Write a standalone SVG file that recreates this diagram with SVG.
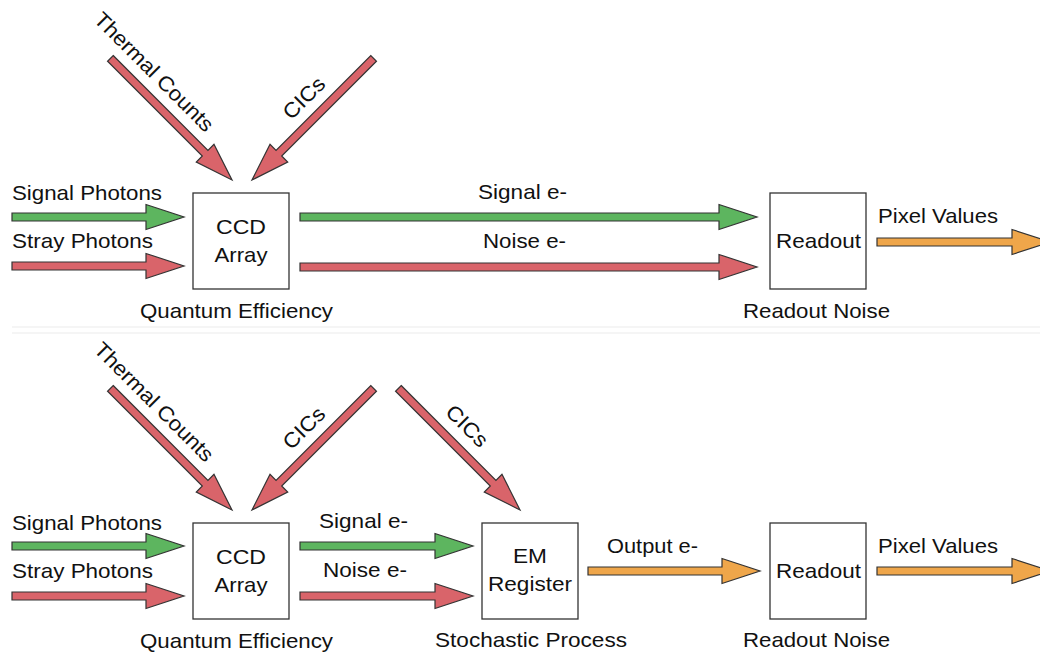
<svg xmlns="http://www.w3.org/2000/svg" width="1040" height="655" viewBox="0 0 1040 655">
<style>
.bg{fill:#ffffff}
.box{fill:#ffffff;stroke:#333333;stroke-width:1.3}
.g{fill:#5db55f;stroke:#333333;stroke-width:1.2;stroke-linejoin:miter}
.r{fill:#d9646a;stroke:#333333;stroke-width:1.2;stroke-linejoin:miter}
.o{fill:#efa64a;stroke:#333333;stroke-width:1.2;stroke-linejoin:miter}
text{font-family:"Liberation Sans",Arial,sans-serif;font-size:21px;fill:#111111}
.m{text-anchor:middle}
.sep{stroke:#ececec;stroke-width:1.2}
</style>
<defs>
<polygon id="diag" points="-172,-4 -38,-4 -38,-12.5 0,0 -38,12.5 -38,4 -172,4"/>
</defs>
<rect class="bg" x="0" y="0" width="1040" height="655"/>
<line class="sep" x1="12" y1="327" x2="1040" y2="327"/>
<line class="sep" x1="12" y1="333" x2="1040" y2="333"/>

<g id="connectors">
  <!-- top panel -->
  <use href="#diag" class="r" transform="translate(232,180) rotate(45)"/>
  <use href="#diag" class="r" transform="translate(252,180) rotate(135)"/>
  <polygon class="g" points="12,213 146,213 146,204.5 184,217 146,229.5 146,221 12,221"/>
  <polygon class="r" points="12,262 146,262 146,253.5 184,266 146,278.5 146,270 12,270"/>
  <polygon class="g" points="300,213 719,213 719,204.5 757,217 719,229.5 719,221 300,221"/>
  <polygon class="r" points="300,263 719,263 719,254.5 757,267 719,279.5 719,271 300,271"/>
  <polygon class="o" points="877,238 1012,238 1012,229.5 1050,242 1012,254.5 1012,246 877,246"/>
  <!-- bottom panel -->
  <use href="#diag" class="r" transform="translate(232,510) rotate(45)"/>
  <use href="#diag" class="r" transform="translate(252,510) rotate(135)"/>
  <use href="#diag" class="r" transform="translate(520,510) rotate(45)"/>
  <polygon class="g" points="12,542 146,542 146,533.5 184,546 146,558.5 146,550 12,550"/>
  <polygon class="r" points="12,592 146,592 146,583.5 184,596 146,608.5 146,600 12,600"/>
  <polygon class="g" points="300,542 435,542 435,533.5 473,546 435,558.5 435,550 300,550"/>
  <polygon class="r" points="300,592 435,592 435,583.5 473,596 435,608.5 435,600 300,600"/>
  <polygon class="o" points="588,567 722,567 722,558.5 760,571 722,583.5 722,575 588,575"/>
  <polygon class="o" points="877,567 1012,567 1012,558.5 1050,571 1012,583.5 1012,575 877,575"/>

  <!-- connector labels -->
  <text class="m" transform="translate(154,72) rotate(45)" y="7" textLength="159" lengthAdjust="spacingAndGlyphs">Thermal Counts</text>
  <text class="m" transform="translate(304,98) rotate(-45)" y="7" textLength="50" lengthAdjust="spacingAndGlyphs">CICs</text>
  <text x="12" y="200" textLength="150" lengthAdjust="spacingAndGlyphs">Signal Photons</text>
  <text x="12" y="248" textLength="141" lengthAdjust="spacingAndGlyphs">Stray Photons</text>
  <text class="m" x="522.5" y="199" textLength="89" lengthAdjust="spacingAndGlyphs">Signal e-</text>
  <text class="m" x="524.5" y="248" textLength="83" lengthAdjust="spacingAndGlyphs">Noise e-</text>
  <text x="878" y="223" textLength="120" lengthAdjust="spacingAndGlyphs">Pixel Values</text>

  <text class="m" transform="translate(154,402) rotate(45)" y="7" textLength="159" lengthAdjust="spacingAndGlyphs">Thermal Counts</text>
  <text class="m" transform="translate(304,428) rotate(-45)" y="7" textLength="50" lengthAdjust="spacingAndGlyphs">CICs</text>
  <text class="m" transform="translate(467,426) rotate(45)" y="7" textLength="50" lengthAdjust="spacingAndGlyphs">CICs</text>
  <text x="12" y="530" textLength="150" lengthAdjust="spacingAndGlyphs">Signal Photons</text>
  <text x="12" y="578" textLength="141" lengthAdjust="spacingAndGlyphs">Stray Photons</text>
  <text class="m" x="363.5" y="528" textLength="89" lengthAdjust="spacingAndGlyphs">Signal e-</text>
  <text class="m" x="365" y="577" textLength="84" lengthAdjust="spacingAndGlyphs">Noise e-</text>
  <text class="m" x="652.5" y="553" textLength="91" lengthAdjust="spacingAndGlyphs">Output e-</text>
  <text x="878" y="553" textLength="120" lengthAdjust="spacingAndGlyphs">Pixel Values</text>
</g>

<g id="ccd-top">
  <rect class="box" x="193" y="193" width="96" height="96"/>
  <text class="m" x="241" y="234" textLength="50" lengthAdjust="spacingAndGlyphs">CCD</text>
  <text class="m" x="241" y="262" textLength="53" lengthAdjust="spacingAndGlyphs">Array</text>
  <text class="m" x="236.5" y="318" textLength="193" lengthAdjust="spacingAndGlyphs">Quantum Efficiency</text>
</g>
<g id="readout-top">
  <rect class="box" x="770" y="193" width="96" height="96"/>
  <text class="m" x="818.5" y="248" textLength="85" lengthAdjust="spacingAndGlyphs">Readout</text>
  <text class="m" x="816.5" y="318" textLength="147" lengthAdjust="spacingAndGlyphs">Readout Noise</text>
</g>

<g id="ccd-bottom">
  <rect class="box" x="193" y="523" width="96" height="96"/>
  <text class="m" x="241" y="564" textLength="50" lengthAdjust="spacingAndGlyphs">CCD</text>
  <text class="m" x="241" y="592" textLength="53" lengthAdjust="spacingAndGlyphs">Array</text>
  <text class="m" x="236.5" y="648" textLength="193" lengthAdjust="spacingAndGlyphs">Quantum Efficiency</text>
</g>
<g id="em-register">
  <rect class="box" x="482" y="523" width="96" height="96"/>
  <text class="m" x="530" y="563" textLength="34" lengthAdjust="spacingAndGlyphs">EM</text>
  <text class="m" x="530" y="591" textLength="84" lengthAdjust="spacingAndGlyphs">Register</text>
  <text class="m" x="531" y="647" textLength="192" lengthAdjust="spacingAndGlyphs">Stochastic Process</text>
</g>
<g id="readout-bottom">
  <rect class="box" x="770" y="523" width="96" height="96"/>
  <text class="m" x="818.5" y="578" textLength="85" lengthAdjust="spacingAndGlyphs">Readout</text>
  <text class="m" x="816.5" y="647" textLength="147" lengthAdjust="spacingAndGlyphs">Readout Noise</text>
</g>
</svg>
